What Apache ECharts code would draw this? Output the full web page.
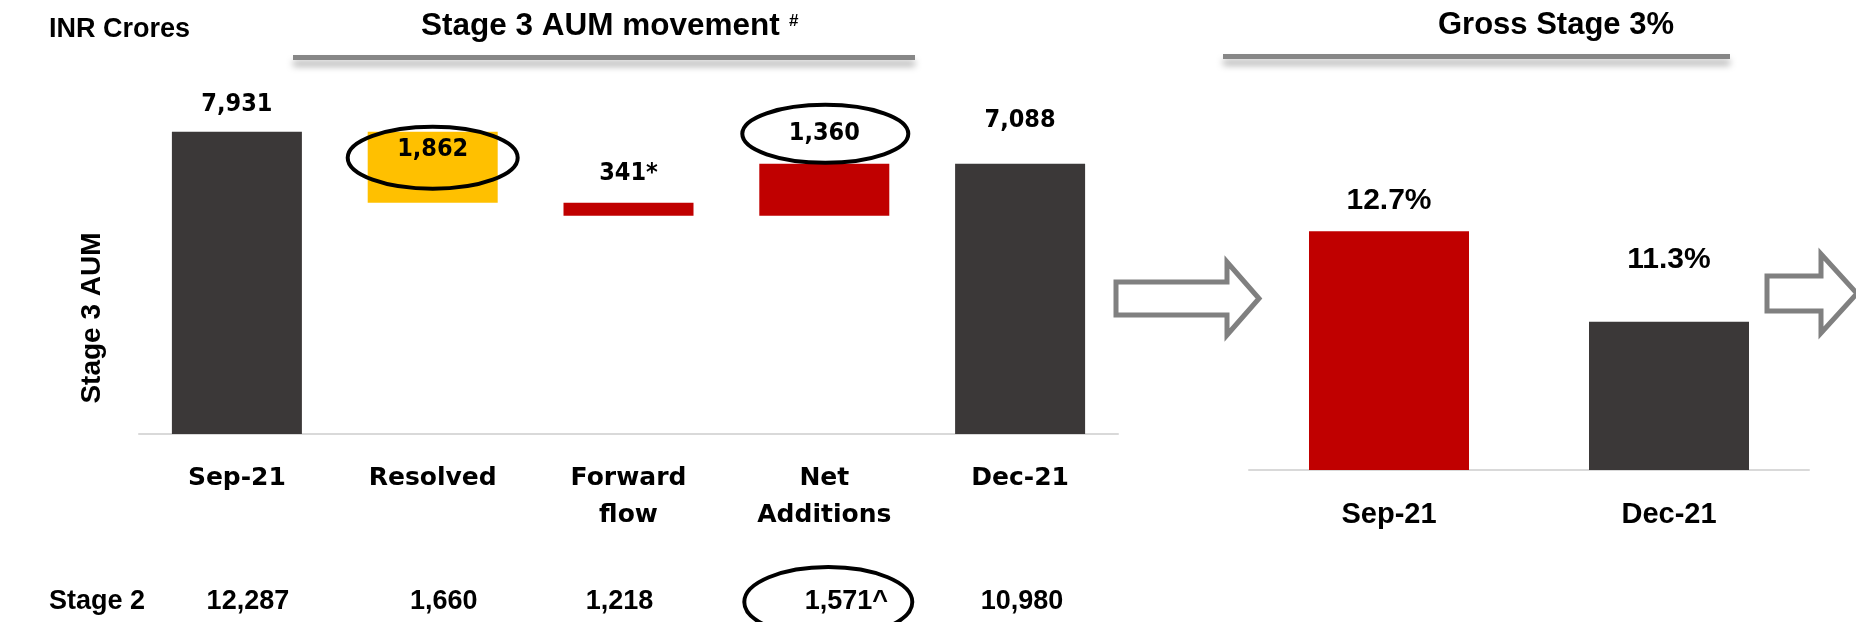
<!DOCTYPE html>
<html>
<head>
<meta charset="utf-8">
<script src="https://cdn.jsdelivr.net/npm/echarts@6/dist/echarts.min.js"></script>
<style>
html,body{margin:0;padding:0;background:#fff;}
#chart{width:1856px;height:622px;}
</style>
</head>
<body>
<div id="chart"></div>
<script>
// ---- data ----
const categories = ['Sep-21', 'Resolved', 'Forward\nflow', 'Net\nAdditions', 'Dec-21'];
const stage3Values = [7931, 1862, 341, 1360, 7088];
const stage3Kind = ['total', 'decrease', 'decrease', 'increase', 'total'];
const stage3Labels = ['7,931', '1,862', '341*', '1,360', '7,088'];
const stage2Labels = ['12,287', '1,660', '1,218', '1,571^', '10,980'];
const gsCategories = ['Sep-21', 'Dec-21'];
const gsValues = [12.7, 11.3];

// ---- styles ----
const DARK = '#3B3838', YEL = '#FFC000', RED = '#C00000';
const wfColors = [DARK, YEL, RED, RED, DARK];
const wfLabelPos = ['top', 'insideTop', 'top', 'top', 'top'];
const wfLabelDist = [14, 5, 16, 17, 30];
const gsColors = [RED, DARK];
const gsLabelDist = [16, 47];
const stage2Dx = [11, 11, -9, 22, 2];
const ARIAL = '"Liberation Sans", Arial, sans-serif';
const GOTHIC = '"DejaVu Sans", sans-serif';
const GOTHIC_C = '"DejaVu Sans Condensed", "DejaVu Sans", sans-serif';

// waterfall bases
let running = 0;
const bases = stage3Values.map((v, i) => {
  const k = stage3Kind[i];
  if (k === 'total') { running = v; return 0; }
  if (k === 'decrease') { running -= v; return running; }
  const b = running; running += v; return b;
});

const chart = echarts.init(document.getElementById('chart'), null, {renderer: 'canvas'});

const option = {
  animation: false,
  backgroundColor: '#fff',
  grid: [
    {left: 139, width: 979, top: 91, height: 343},
    {left: 1249, width: 560, top: 212, height: 258}
  ],
  xAxis: [
    {
      type: 'category', gridIndex: 0, data: categories,
      axisLine: {lineStyle: {color: '#D9D9D9', width: 2}},
      axisTick: {show: false},
      axisLabel: {interval: 0, color: '#000', fontFamily: GOTHIC, fontWeight: 'bold', fontSize: 25, lineHeight: 37, margin: 26}
    },
    {
      type: 'category', gridIndex: 1, data: gsCategories,
      axisLine: {lineStyle: {color: '#D9D9D9', width: 2}},
      axisTick: {show: false},
      axisLabel: {interval: 0, color: '#000', fontFamily: ARIAL, fontWeight: 'bold', fontSize: 29, lineHeight: 30, margin: 30}
    }
  ],
  yAxis: [
    {type: 'value', gridIndex: 0, min: 0, max: 9000, show: false, splitLine: {show: false}},
    {type: 'value', gridIndex: 1, min: 9, max: 13, show: false, splitLine: {show: false}}
  ],
  series: [
    {
      type: 'bar', xAxisIndex: 0, yAxisIndex: 0, stack: 'wf', barWidth: 130, silent: true,
      itemStyle: {color: 'rgba(0,0,0,0)'},
      data: bases
    },
    {
      type: 'bar', xAxisIndex: 0, yAxisIndex: 0, stack: 'wf', barWidth: 130,
      data: stage3Values.map((v, i) => ({
        value: v,
        itemStyle: {color: wfColors[i]},
        label: {
          show: true, position: wfLabelPos[i], distance: wfLabelDist[i],
          formatter: stage3Labels[i], color: '#000',
          fontFamily: GOTHIC_C, fontWeight: 'bold', fontSize: 25, lineHeight: 26
        }
      }))
    },
    {
      type: 'bar', xAxisIndex: 1, yAxisIndex: 1, barWidth: 160,
      data: gsValues.map((v, i) => ({
        value: v,
        itemStyle: {color: gsColors[i]},
        label: {
          show: true, position: 'top', distance: gsLabelDist[i],
          formatter: v.toFixed(1) + '%', color: '#000',
          fontFamily: ARIAL, fontWeight: 'bold', fontSize: 30, lineHeight: 30
        }
      }))
    }
  ]
};
chart.setOption(option);

function txt(x, y, text, font, align, extra) {
  return Object.assign({
    type: 'text', x: x, y: y, z: 100,
    style: {text: text, font: font, fill: '#000', align: align || 'left', verticalAlign: 'middle',
            textAlign: align || 'left', textVerticalAlign: 'middle'}
  }, extra || {});
}

const graphics = [];
graphics.push(txt(49, 30, 'INR Crores', 'bold 27px ' + ARIAL));
graphics.push(txt(421, 26, 'Stage 3 AUM movement', 'bold 31.5px ' + ARIAL));
graphics.push(txt(789, 21, '#', 'bold 17px ' + ARIAL));
graphics.push(txt(1556, 25, 'Gross Stage 3%', 'bold 31px ' + ARIAL, 'center'));
graphics.push(txt(92, 318, 'Stage 3 AUM', 'bold 28px ' + ARIAL, 'center', {rotation: Math.PI / 2}));

// title underlines
const lineStyle = {stroke: '#878787', lineWidth: 5, shadowBlur: 7, shadowColor: 'rgba(0,0,0,0.35)', shadowOffsetY: 6};
graphics.push({type: 'line', z: 90, shape: {x1: 293, y1: 57.5, x2: 915, y2: 57.5}, style: lineStyle});
graphics.push({type: 'line', z: 90, shape: {x1: 1223, y1: 56.5, x2: 1730, y2: 56.5}, style: lineStyle});

// arrows
const arrowStyle = {fill: '#fff', stroke: '#808080', lineWidth: 5, lineJoin: 'miter'};
graphics.push({type: 'polygon', z: 90, shape: {points: [[1116,282],[1227,282],[1227,262],[1259,298.5],[1227,335],[1227,315],[1116,315]]}, style: arrowStyle});
graphics.push({type: 'polygon', z: 90, shape: {points: [[1767,276],[1821,276],[1821,254],[1857,293.5],[1821,333],[1821,311],[1767,311]]}, style: arrowStyle});

// Stage 2 row
const stage2Y = 602;
graphics.push(txt(49, stage2Y, 'Stage 2', 'bold 27px ' + ARIAL));
stage2Labels.forEach((s, i) => {
  const p = chart.convertToPixel({xAxisIndex: 0, yAxisIndex: 0}, [i, 0]);
  graphics.push(txt(p[0] + stage2Dx[i], stage2Y, s, 'bold 27px ' + ARIAL, 'center'));
});

// ellipses
const ellStyle = {fill: 'none', stroke: '#000', lineWidth: 4};
function topPx(i) {
  return chart.convertToPixel({xAxisIndex: 0, yAxisIndex: 0}, [i, bases[i] + stage3Values[i]]);
}
const pRes = topPx(1);
graphics.push({type: 'ellipse', z: 95, shape: {cx: pRes[0], cy: pRes[1] + 26, rx: 85, ry: 31}, style: ellStyle});
const pNet = topPx(3);
graphics.push({type: 'ellipse', z: 95, shape: {cx: pNet[0] + 1, cy: pNet[1] - 30, rx: 83, ry: 29}, style: ellStyle});
graphics.push({type: 'ellipse', z: 95, shape: {cx: pNet[0] + 4, cy: stage2Y, rx: 84, ry: 35}, style: ellStyle});

chart.setOption({graphic: {elements: graphics}});
</script>
</body>
</html>
